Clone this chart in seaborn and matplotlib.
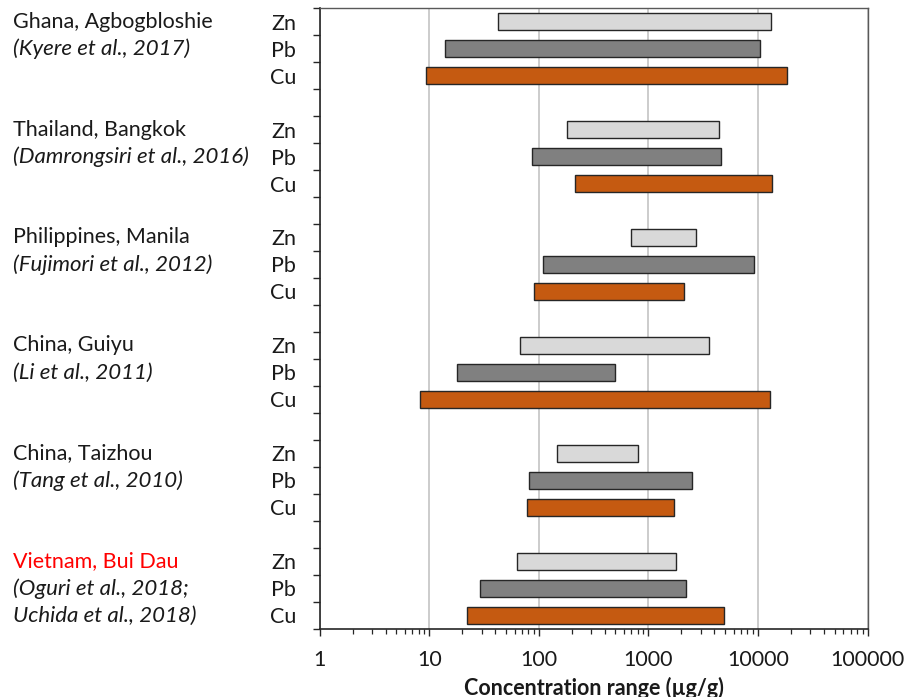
import matplotlib
matplotlib.use("Agg")
import matplotlib.pyplot as plt
import matplotlib.transforms as mtransforms
from matplotlib.ticker import LogLocator, FixedLocator, NullFormatter
import numpy as np
import pandas as pd
import seaborn as sns

sns.set_theme(style="ticks")
plt.rcParams['font.family'] = ['Lato', 'DejaVu Sans']

# ---------------- data ----------------
sites = ["Ghana, Agbogbloshie", "Thailand, Bangkok", "Philippines, Manila",
         "China, Guiyu", "China, Taizhou", "Vietnam, Bui Dau"]
refs = [["(Kyere et al., 2017)"],
        ["(Damrongsiri et al., 2016)"],
        ["(Fujimori et al., 2012)"],
        ["(Li et al., 2011)"],
        ["(Tang et al., 2010)"],
        ["(Oguri et al., 2018;", "Uchida et al., 2018)"]]
site_colors = ["#1a1a1a", "#1a1a1a", "#1a1a1a", "#1a1a1a", "#1a1a1a", "#FF0000"]
elements = ["Zn", "Pb", "Cu"]

zn_low  = [42, 181, 695, 66.7, 145, 62.6]
zn_high = [13100, 4440, 2700, 3600, 799, 1785]
pb_low  = [14, 86, 109, 17.8, 81, 29]
pb_high = [10300, 4630, 9180, 496, 2470, 2220]
cu_low  = [9.3, 213, 90, 8.3, 77.8, 21.9]
cu_high = [18500, 13300, 2100, 12800, 1726, 4890]

elem_colors = {"Zn": "#D9D9D9", "Pb": "#808080", "Cu": "#C55A11"}

rows = []
for g, site in enumerate(sites):
    for k, (el, lo, hi) in enumerate(zip(elements,
                                         [zn_low[g], pb_low[g], cu_low[g]],
                                         [zn_high[g], pb_high[g], cu_high[g]])):
        rows.append(dict(site=site, element=el, low=lo, high=hi, pos=4 * g + k))
df = pd.DataFrame(rows)

FS = 15.5

# ---------------- figure ----------------
fig = plt.figure(figsize=(9.16, 6.97), dpi=100)
ax = fig.add_axes([0.3489, 0.0976, 0.9473 - 0.3489, 0.9885 - 0.0976])

ax.barh(df["pos"], df["high"] - df["low"], left=df["low"], height=0.66,
        color=[elem_colors[e] for e in df["element"]],
        edgecolor="#262626", linewidth=1.0, zorder=3)

ax.set_xscale("log")
ax.set_xlim(1, 100000)
n_slots = 4 * len(sites) - 1
ax.set_ylim(n_slots - 0.5, -0.5)

# x ticks
ax.set_xticks([1, 10, 100, 1000, 10000, 100000])
ax.set_xticklabels(["1", "10", "100", "1000", "10000", "100000"])
ax.xaxis.set_minor_locator(LogLocator(base=10, subs=np.arange(2, 10), numticks=20))
ax.xaxis.set_minor_formatter(NullFormatter())
ax.tick_params(axis="x", which="major", length=5, width=1.0, color="#262626",
               labelsize=FS, pad=10, labelcolor="#1a1a1a", direction="out")
ax.tick_params(axis="x", which="minor", length=3.5, width=0.9, color="#262626",
               direction="out")
ax.xaxis.grid(True, which="major", color="#BFBFBF", linewidth=1.1, zorder=0)
ax.set_axisbelow(True)

# y ticks: element labels at bar centres, tick marks at slot boundaries
ax.set_yticks(df["pos"].tolist())
ax.set_yticklabels(df["element"].tolist())
ax.tick_params(axis="y", which="major", length=0, pad=17, labelsize=FS,
               labelcolor="#1a1a1a")
ax.yaxis.set_minor_locator(FixedLocator(np.arange(-0.5, n_slots, 1.0)))
ax.tick_params(axis="y", which="minor", length=5, width=1.0, color="#262626",
               direction="out")

for side in ["left", "bottom"]:
    ax.spines[side].set_color("#262626")
    ax.spines[side].set_linewidth(1.2)
for side in ["top", "right"]:
    ax.spines[side].set_color("#595959")
    ax.spines[side].set_linewidth(1.0)

ax.set_xlabel("Concentration range (µg/g)", fontsize=FS, fontweight="bold",
              color="#1a1a1a", labelpad=5)

# site labels
trans = mtransforms.blended_transform_factory(fig.transFigure, ax.transData)
for g, site in enumerate(sites):
    ax.text(0.0142, 4 * g, site, transform=trans, ha="left", va="center",
            fontsize=FS, color=site_colors[g])
    for j, line in enumerate(refs[g]):
        ax.text(0.0142, 4 * g + 1 + j, line, transform=trans, ha="left",
                va="center", fontsize=FS + 0.5, style="italic", color="#1a1a1a")

fig.savefig("out.png", dpi=100)
